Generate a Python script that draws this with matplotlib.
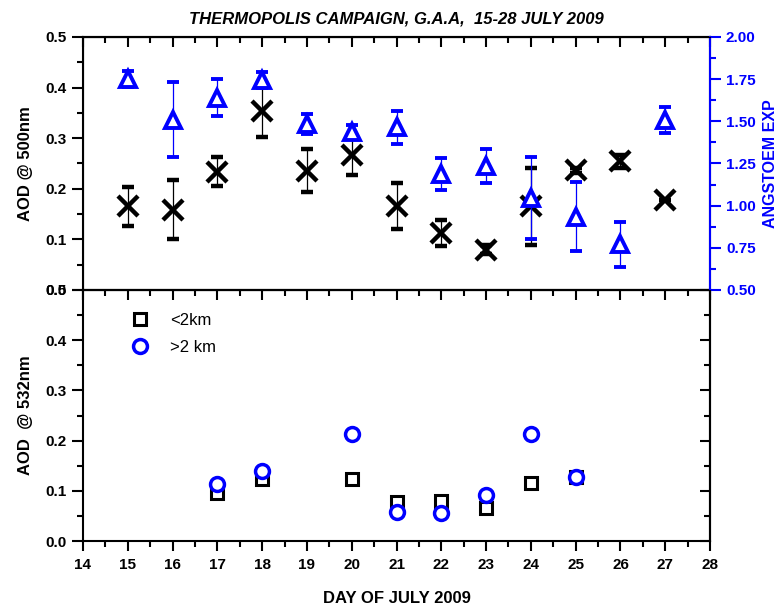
import matplotlib.pyplot as plt
from matplotlib.ticker import MultipleLocator, FormatStrFormatter

plt.rcParams['font.family'] = ['Liberation Sans', 'DejaVu Sans']
plt.rcParams['font.weight'] = 'bold'

# dagar
days = [15, 16, 17, 18, 19, 20, 21, 22, 23, 24, 25, 26, 27]
# AOD @ 500nm med fel
aod500 = [0.165, 0.159, 0.234, 0.354, 0.236, 0.267, 0.166, 0.113, 0.080, 0.165, 0.237, 0.254, 0.178]
aod500_err = [0.039, 0.059, 0.028, 0.051, 0.042, 0.040, 0.045, 0.026, 0.008, 0.077, 0.005, 0.013, 0.0]
# Angstrom exponent med fel
angstrom = [1.750, 1.510, 1.640, 1.745, 1.482, 1.438, 1.464, 1.188, 1.235, 1.043, 0.935, 0.771, 1.508]
angstrom_err = [0.047, 0.224, 0.111, 0.045, 0.059, 0.040, 0.098, 0.094, 0.101, 0.243, 0.206, 0.132, 0.076]

# lidar AOD @ 532nm
lidar_days = [17, 18, 20, 21, 22, 23, 24, 25]
aod532_low = [0.096, 0.124, 0.123, 0.077, 0.080, 0.066, 0.116, 0.127]
aod532_high = [0.113, 0.139, 0.213, 0.057, 0.055, 0.091, 0.213, 0.128]

fig = plt.figure(figsize=(7.83, 6.10), dpi=100)
ax1 = fig.add_axes([0.106, 0.5246, 0.8008, 0.4148])
ax2 = fig.add_axes([0.106, 0.1131, 0.8008, 0.4115])


def style_x(ax, labels):
    # x-axeln: nedre ticks utåt, övre ticks inåt (via sekundär axel)
    ax.set_xlim(14, 28)
    ax.xaxis.set_major_locator(MultipleLocator(1))
    ax.xaxis.set_minor_locator(MultipleLocator(0.5))
    ax.tick_params(axis='x', which='major', direction='out', length=7, width=1.5,
                   labelsize=11, labelbottom=labels, pad=5)
    ax.tick_params(axis='x', which='minor', direction='out', length=4, width=1.5)
    sec = ax.secondary_xaxis('top')
    sec.xaxis.set_major_locator(MultipleLocator(1))
    sec.xaxis.set_minor_locator(MultipleLocator(0.5))
    sec.tick_params(axis='x', which='major', direction='in', length=7, width=1.5, labeltop=False)
    sec.tick_params(axis='x', which='minor', direction='in', length=4, width=1.5)
    sec.spines['top'].set_linewidth(1.5)
    for s in ax.spines.values():
        s.set_linewidth(1.5)


# övre panelen
ax1.errorbar(days, aod500, yerr=aod500_err, fmt='x', color='black', ms=14, mew=3.2,
             ecolor='black', elinewidth=0.9, capsize=4, capthick=0.9)
ax1.set_ylim(0, 0.5)
ax1.set_ylabel('AOD @ 500nm', fontsize=12, fontweight='bold', labelpad=9)
ax1.yaxis.set_major_locator(MultipleLocator(0.1))
ax1.yaxis.set_minor_locator(MultipleLocator(0.05))
ax1.tick_params(axis='y', which='major', direction='out', length=8, width=1.5, labelsize=11)
ax1.tick_params(axis='y', which='minor', direction='out', length=4, width=1.5)
style_x(ax1, False)
ax1.set_title('THERMOPOLIS CAMPAIGN, G.A.A,  15-28 JULY 2009', fontsize=12,
              fontweight='bold', style='italic', pad=10)

ax1r = ax1.twinx()
ax1r.errorbar(days, angstrom, yerr=angstrom_err, fmt='^', color='blue', ms=11,
              mew=2.8, mfc='white', ecolor='blue', elinewidth=0.9, capsize=4, capthick=0.9)
ax1r.set_ylim(0.5, 2.0)
ax1r.yaxis.set_major_locator(MultipleLocator(0.25))
ax1r.yaxis.set_minor_locator(MultipleLocator(0.125))
ax1r.yaxis.set_major_formatter(FormatStrFormatter('%.2f'))
ax1r.tick_params(axis='y', which='major', colors='blue', direction='out', length=8, width=1.5, labelsize=11)
ax1r.tick_params(axis='y', which='minor', colors='blue', direction='out', length=4, width=1.5)
ax1r.spines['right'].set_color('blue')
ax1r.spines['right'].set_linewidth(1.5)
ax1r.set_ylabel('ANGSTOEM EXP', color='blue', fontsize=11.5, fontweight='bold', labelpad=5)

# nedre panelen
ax2.plot(lidar_days, aod532_low, 's', color='black', ms=9, mew=2.2, mfc='white', label='<2km')
ax2.plot(lidar_days, aod532_high, 'o', color='blue', ms=10, mew=2.5, mfc='white', label='>2 km')
ax2.set_ylim(0, 0.5)
ax2.yaxis.set_major_locator(MultipleLocator(0.1))
ax2.yaxis.set_minor_locator(MultipleLocator(0.05))
ax2.tick_params(axis='y', which='major', direction='out', length=8, width=1.5, labelsize=11)
ax2.tick_params(axis='y', which='minor', direction='out', length=4, width=1.5)
secy = ax2.secondary_yaxis('right')
secy.yaxis.set_major_locator(MultipleLocator(0.1))
secy.yaxis.set_minor_locator(MultipleLocator(0.05))
secy.tick_params(axis='y', which='major', direction='in', length=7, width=1.5, labelright=False)
secy.tick_params(axis='y', which='minor', direction='in', length=4, width=1.5)
secy.spines['right'].set_linewidth(1.5)
style_x(ax2, True)
ax2.set_ylabel('AOD  @ 532nm', fontsize=12, fontweight='bold', labelpad=9)
ax2.set_xlabel('DAY OF JULY 2009', fontsize=12, fontweight='bold', labelpad=14)

for lab in ax1.get_yticklabels() + ax1r.get_yticklabels() + ax2.get_yticklabels() + ax2.get_xticklabels():
    lab.set_fontweight('bold')

ax2.legend(loc='upper left', frameon=False, prop={'weight': 'normal', 'size': 12},
           handletextpad=0.8, bbox_to_anchor=(0.04, 0.97), labelspacing=0.75)

fig.savefig('out.png', dpi=100)
